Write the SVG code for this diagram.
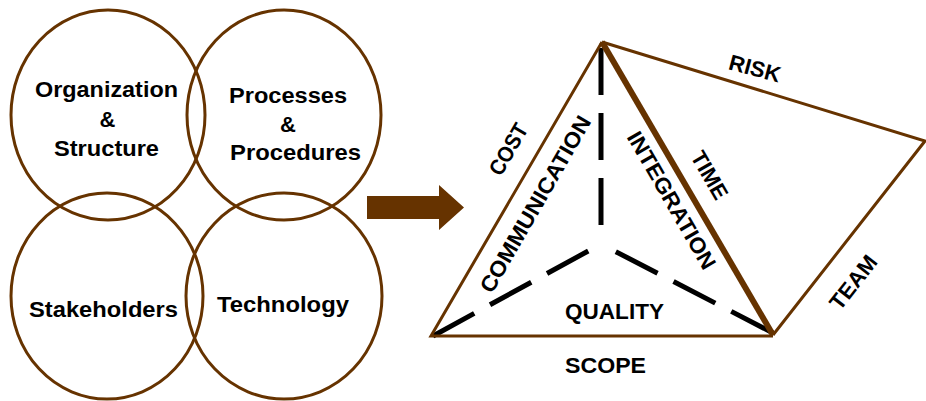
<svg xmlns="http://www.w3.org/2000/svg" width="926" height="401" viewBox="0 0 926 401">
<style>
.c{fill:none;stroke:#663300;stroke-width:3}
.t{font-family:"Liberation Sans",Arial,sans-serif;font-weight:bold;font-size:22px;fill:#000;text-anchor:middle}
.e{fill:none;stroke:#663300;stroke-width:3;stroke-linejoin:miter}
.d{stroke:#000;stroke-width:5;stroke-dasharray:47 18;fill:none}
</style>
<rect width="926" height="401" fill="#fff"/>
<g id="organization">
<ellipse class="c" cx="108" cy="115" rx="97" ry="105"/>
<text class="t" x="106.5" y="97" textLength="143" lengthAdjust="spacingAndGlyphs">Organization</text>
<text class="t" x="107.5" y="127">&amp;</text>
<text class="t" x="106.5" y="156" textLength="105" lengthAdjust="spacingAndGlyphs">Structure</text>
</g>
<g id="processes">
<ellipse class="c" cx="284" cy="115" rx="97" ry="105"/>
<text class="t" x="288" y="103" textLength="118" lengthAdjust="spacingAndGlyphs">Processes</text>
<text class="t" x="288" y="132">&amp;</text>
<text class="t" x="295.5" y="160" textLength="131" lengthAdjust="spacingAndGlyphs">Procedures</text>
</g>
<g id="stakeholders">
<ellipse class="c" cx="107" cy="296" rx="96" ry="103"/>
<text class="t" x="103.5" y="317" textLength="149" lengthAdjust="spacingAndGlyphs">Stakeholders</text>
</g>
<g id="technology">
<ellipse class="c" cx="284" cy="296" rx="98" ry="103"/>
<text class="t" x="283" y="312" textLength="132" lengthAdjust="spacingAndGlyphs">Technology</text>
</g>
<g id="arrow">
<polygon points="367,196 439,196 439,185 464,207.5 439,230 439,219 367,219" fill="#663300"/>
</g>
<g id="connectors">
<line class="d" x1="601" y1="48" x2="601" y2="232"/>
<line class="d" x1="433" y1="336" x2="601" y2="244"/>
<line class="d" x1="773" y1="333" x2="601" y2="244"/>
<polyline class="e" points="602,42 925,141 773,335"/>
<polyline class="e" points="773,336 431,336 602,42"/>
<line x1="602" y1="42" x2="773" y2="335" stroke="#663300" stroke-width="6"/>
</g>
<g id="labels">
<text class="t" transform="translate(508,149) rotate(-60)" y="8" textLength="56" lengthAdjust="spacingAndGlyphs">COST</text>
<text class="t" transform="translate(535,204) rotate(-60)" y="8" textLength="200" lengthAdjust="spacingAndGlyphs">COMMUNICATION</text>
<text class="t" transform="translate(672,200) rotate(60)" y="8" textLength="155" lengthAdjust="spacingAndGlyphs">INTEGRATION</text>
<text class="t" transform="translate(710,175) rotate(60)" y="8" textLength="52" lengthAdjust="spacingAndGlyphs">TIME</text>
<text class="t" transform="translate(755,68) rotate(15)" y="8">RISK</text>
<text class="t" transform="translate(853,282) rotate(-52)" y="8">TEAM</text>
<text class="t" x="614.5" y="319" textLength="99" lengthAdjust="spacingAndGlyphs">QUALITY</text>
<text class="t" x="605.5" y="373" textLength="81" lengthAdjust="spacingAndGlyphs">SCOPE</text>
</g>
</svg>
